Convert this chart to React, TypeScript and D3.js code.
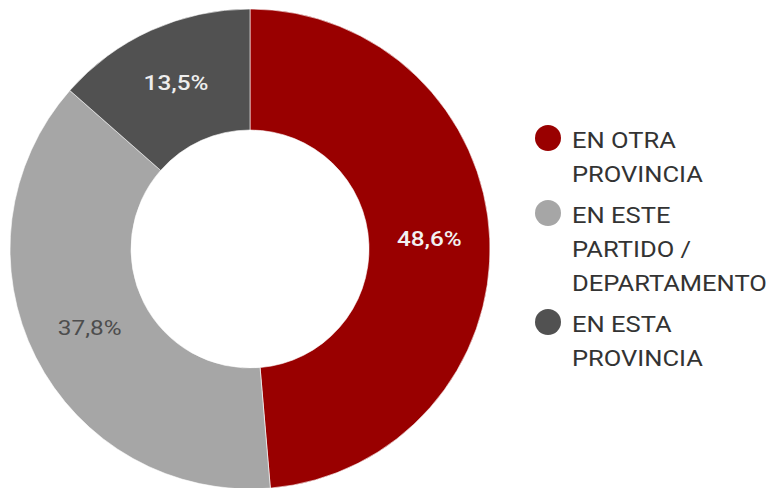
import React from "react";
import * as d3 from "d3";

const categories = ["EN OTRA PROVINCIA", "EN ESTE PARTIDO / DEPARTAMENTO", "EN ESTA PROVINCIA"];
const legendLines = [["EN OTRA", "PROVINCIA"], ["EN ESTE", "PARTIDO /", "DEPARTAMENTO"], ["EN ESTA", "PROVINCIA"]];
const values = [48.6, 37.8, 13.5];
const colors = ["#990000", "#a6a6a6", "#515151"];
const labelColors = ["#f2f2f2", "#4d4d4d", "#eeeeee"];
const labelWeights = [500, 400, 500];

// the original text is drawn a little wider than Roboto's normal width
const stretch = 1.16;

const App = () => {
  const cx = 250;
  const cy = 249;
  const outer = 240;
  const inner = 119;

  const pie = d3.pie<number>().sort(null).value((d) => d);
  const arcs = pie(values);
  const arc = d3.arc<d3.PieArcDatum<number>>().innerRadius(inner).outerRadius(outer);
  const labelArc = d3
    .arc<d3.PieArcDatum<number>>()
    .innerRadius((inner + outer) / 2)
    .outerRadius((inner + outer) / 2);

  const fmt = (v: number) => v.toFixed(1).replace(".", ",") + "%";

  const lineH = 34;
  let y = 148;
  const rows = legendLines.map((lines, i) => {
    const row = { y, lines, i };
    y += lines.length * lineH + 7;
    return row;
  });

  return (
    <svg
      width={776}
      height={488}
      style={{ position: "absolute", left: 0, top: 0, fontFamily: "Roboto, sans-serif" }}
    >
      <g transform={`translate(${cx},${cy})`}>
        {arcs.map((a, i) => (
          <path key={categories[i]} d={arc(a) || ""} fill={colors[i]} stroke="#ffffff" strokeWidth={0.6} />
        ))}
        {arcs.map((a, i) => {
          const [lx, ly] = labelArc.centroid(a);
          return (
            <text
              key={"l" + i}
              transform={`translate(${lx},${ly - 2}) scale(${stretch},1)`}
              textAnchor="middle"
              dominantBaseline="central"
              fontSize={21}
              fontWeight={labelWeights[i]}
              fill={labelColors[i]}
            >
              {fmt(values[i])}
            </text>
          );
        })}
      </g>
      {rows.map((r) => (
        <g key={"leg" + r.i}>
          <circle cx={548} cy={r.y - 10} r={13} fill={colors[r.i]} />
          {r.lines.map((t, j) => (
            <text
              key={j}
              transform={`translate(572,${r.y + j * lineH}) scale(${stretch},1)`}
              fontSize={22}
              fill="#333333"
            >
              {t}
            </text>
          ))}
        </g>
      ))}
    </svg>
  );
};

export default App;
